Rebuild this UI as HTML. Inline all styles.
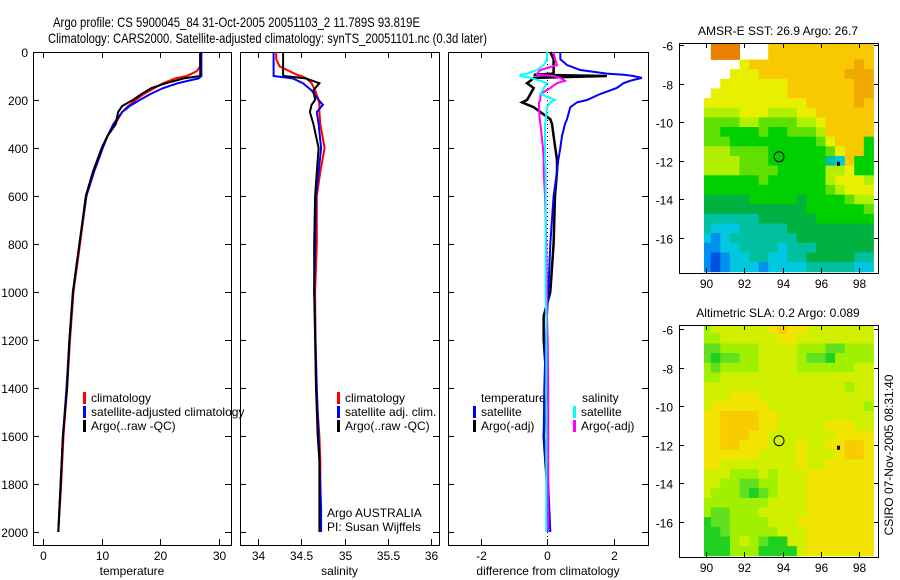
<!DOCTYPE html>
<html><head><meta charset="utf-8"><style>
html,body{margin:0;padding:0;background:#fff;}
svg{display:block;font-family:"Liberation Sans",sans-serif;}
</style></head><body>
<svg id="fig" width="900" height="580" viewBox="0 0 900 580">
<text x="53" y="27" font-size="14" textLength="367" lengthAdjust="spacingAndGlyphs">Argo profile: CS 5900045_84 31-Oct-2005 20051103_2 11.789S 93.819E</text>
<text x="48" y="43" font-size="14" textLength="439" lengthAdjust="spacingAndGlyphs">Climatology: CARS2000. Satellite-adjusted climatology: synTS_20051101.nc (0.3d later)</text>
<text transform="translate(893,455) rotate(-90)" text-anchor="middle" font-size="12">CSIRO 07-Nov-2005 08:31:40</text>
</svg>
<script>
// ---------- data ----------
const depthTicks=[0,200,400,600,800,1000,1200,1400,1600,1800,2000];
const tempTicks=[0,10,20,30];
const salTicks=[34,34.5,35,35.5,36];
const salTickLabels=["34","34.5","35","35.5","36"];
const diffTicks=[-2,0,2];
const tDepth=[0,60,80,100,110,130,150,175,200,225,250,300,350,400,500,600,800,1000,1200,1400,1600,1800,2000];
const tClim=[26.8,26.8,26.2,24.5,22.5,20.5,19,17.2,15.8,14.5,13.5,12.3,11,10,8.5,7.4,6.3,5.2,4.6,4.1,3.5,3.1,2.6];
const tSat=[27,27,27,27,26.5,23,20.5,18.3,16.5,14.8,13.5,12,11,10.2,8.7,7.4,6.2,5.1,4.5,4.0,3.4,3.0,2.6];
const tArgo=[26.8,26.8,26.8,26.8,24,21,18.5,16.8,15.3,13.5,12.8,12.4,11,10,8.5,7.3,6.2,5.1,4.5,4.1,3.4,3.0,2.6];
const sDepth=[0,30,60,95,100,110,130,160,200,220,250,300,400,500,600,800,1000,1400,1600,1700,1900,2000];
const sClim=[34.21,34.21,34.25,34.45,34.5,34.56,34.62,34.66,34.7,34.71,34.71,34.72,34.77,34.72,34.68,34.68,34.66,34.67,34.71,34.72,34.72,34.72];
const sSat=[34.18,34.18,34.18,34.18,34.18,34.4,34.52,34.62,34.7,34.75,34.68,34.7,34.73,34.7,34.67,34.66,34.65,34.68,34.7,34.71,34.73,34.73];
const sArgo=[34.29,34.29,34.29,34.29,34.3,34.55,34.71,34.64,34.66,34.62,34.6,34.64,34.7,34.68,34.66,34.65,34.65,34.67,34.69,34.71,34.71,34.71];
const dDepth=[0,30,54,75,90,95,100,108,120,130,150,175,200,210,230,280,300,350,400,450,500,600,800,1000,1100,1200,1400,1600,1800,2000];
const dTempSat=[0.4,0.4,0.6,1.0,1.8,2.3,2.6,2.85,2.5,2.3,2.1,1.6,1.2,0.9,0.7,0.6,0.54,0.45,0.4,0.34,0.3,0.2,0.1,0.04,0,-0.04,-0.08,-0.1,0.04,0.1];
const dTempArgo=[0.1,0.2,0.2,0.2,0.2,-0.4,1.8,-0.4,-0.5,-0.6,-0.4,-0.5,-0.6,-0.75,-0.4,0.1,0.15,0.2,0.25,0.3,0.3,0.24,0.2,0.1,-0.1,-0.1,0,-0.1,0,0];
const dSalSat=[0,0,-0.1,-0.3,-0.6,-0.8,-0.8,-0.5,-0.2,0,-0.1,-0.2,0.24,0.1,0,-0.04,-0.06,-0.06,-0.06,-0.06,-0.04,-0.04,-0.04,-0.04,-0.02,-0.02,-0.02,-0.02,-0.02,-0.02];
const dSalArgo=[0.2,0.24,0.3,-0.2,-0.3,-0.3,0.2,0.4,0.54,0.3,0.1,-0.2,-0.2,-0.24,-0.24,-0.22,-0.2,-0.16,-0.12,-0.1,-0.1,-0.06,-0.02,0,0,0.02,0.04,0.04,0.04,0.04];
const lonTicks=[90,92,94,96,98];
const latTicks=[-6,-8,-10,-12,-14,-16];
const sstRows=[".bbb...99999999999",".bbb...99999999999","....899999999999a9","...888999999999aaa","..88888889999999aa",".888888889999999aa","8888888888899999a9","777788877788999999","666677666677899999","665555655666799999","666555555555689995","777666655555568995","777766655555532955","777766665555577855","555555655555578887","555555555555567888","444445555545555677","444444444445555556","333333444444555555","322233333444444444","212333333344444444","112233332333444444","101223322334444433","101222122223333322"];
const slaRows=["677777789887777777","667777778877777777","556666777766655666","545566777765546666","656666777766666677","667777777777777777","777777777777777677","777888777777777777","788888877777777776","889999887777777777","889999887777788877","889998877777778888","889988877787788998","888888777787778998","887777777787788888","777666767778888888","776655667778888888","766654567778888888","666666677778888888","655666777778888888","455666677788888888","445666667778888888","444676544778888888","444666444478888888"];
const argoLon=93.819, argoLat=-11.789;
// ---------- drawing ----------
const NS="http://www.w3.org/2000/svg";
const svg=document.getElementById("fig");
function mk(tag,attrs,parent){const e=document.createElementNS(NS,tag);for(const k in attrs)e.setAttribute(k,attrs[k]);(parent||svg).appendChild(e);return e;}
const yD=d=>52+d*0.24;
const Y0=52,Y1=545;
const xT=v=>43+v*5.867, xS=v=>258+(v-34)*86.5, xDf=v=>547+v*33.25;

function panel(name,x0,x1){
  const g=mk("g",{});
  
  
  const r=mk("rect",{x:x0+0.5,y:Y0+0.5,width:x1-x0,height:Y1-Y0,fill:"none",stroke:"#000","stroke-width":1},g);
  
  
  depthTicks.forEach(d=>{
    const y=Math.round(yD(d))+0.5;
    mk("line",{x1:x0,x2:x0+6,y1:y,y2:y,stroke:"#000"},g);
    mk("line",{x1:x1-6,x2:x1,y1:y,y2:y,stroke:"#000"},g);
  });
  return g;
}
function xticks(g,ticks,labels,fx,x0,x1,title,tname){
  ticks.forEach((t,i)=>{
    const x=Math.round(fx(t))+0.5;
    mk("line",{x1:x,x2:x,y1:Y1-6,y2:Y1,stroke:"#000"},g);
    mk("line",{x1:x,x2:x,y1:Y0,y2:Y0+6,stroke:"#000"},g);
    const t2=mk("text",{x:x,y:Y1+15,"text-anchor":"middle","font-size":12},g);
    t2.textContent=labels[i];
    
    
  });
  const tt=mk("text",{x:(x0+x1)/2,y:575,"text-anchor":"middle","font-size":12},g);
  tt.textContent=title;
  
  
}
function series(g,vals,depths,fx,color,name,w){
  const pts=vals.map((v,i)=>fx(v).toFixed(1)+","+yD(depths[i]).toFixed(1)).join(" ");
  const p=mk("polyline",{points:pts,fill:"none",stroke:color,"stroke-width":w||2},g);
  
  
}
function legend(g,x,y,items){
  items.forEach((it,i)=>{
    const yy=y+i*14;
    const b=mk("rect",{x:x,y:yy-10,width:3,height:12,fill:it[1]},g);
    
    
    const t=mk("text",{x:x+8,y:yy,"font-size":12},g);
    t.textContent=it[0];
    
    
  });
}
// Panel 1 temperature
const g1=panel("temperature-panel",33,231);
depthTicks.forEach(d=>{const t=mk("text",{x:28,y:yD(d)+5,"text-anchor":"end","font-size":12},g1);t.textContent=d;
  
  });
xticks(g1,tempTicks,tempTicks.map(String),xT,33,231,"temperature","x-axis-title-temperature");
series(g1,tClim,tDepth,xT,"#f00","temp-climatology-line");
series(g1,tSat,tDepth,xT,"#00f","temp-satellite-line");
series(g1,tArgo,tDepth,xT,"#000","temp-argo-line");
legend(g1,83,402,[["climatology","#f00"],["satellite-adjusted climatology","#00f"],["Argo(..raw -QC)","#000"]]);
// Panel 2 salinity
const g2=panel("salinity-panel",240,439);
xticks(g2,salTicks,salTickLabels,xS,240,439,"salinity","x-axis-title-salinity");
series(g2,sClim,sDepth,xS,"#f00","sal-climatology-line");
series(g2,sSat,sDepth,xS,"#00f","sal-satellite-line");
series(g2,sArgo,sDepth,xS,"#000","sal-argo-line");
legend(g2,337,402,[["climatology","#f00"],["satellite adj. clim.","#00f"],["Argo(..raw -QC)","#000"]]);
const n1=mk("text",{x:327,y:517,"font-size":12},g2);n1.textContent="Argo AUSTRALIA";


const n2=mk("text",{x:327,y:531,"font-size":12},g2);n2.textContent="PI: Susan Wijffels";


// Panel 3 difference
const g3=panel("difference-panel",448,648);
xticks(g3,diffTicks,diffTicks.map(String),xDf,448,648,"difference from climatology","x-axis-title-difference");
const zl=mk("line",{x1:547.5,x2:547.5,y1:Y0,y2:Y1,stroke:"#000","stroke-dasharray":"1,3"},g3);


series(g3,dTempArgo,dDepth,xDf,"#000","diff-temp-argo-line",2.5);
series(g3,dTempSat,dDepth,xDf,"#00f","diff-temp-satellite-line");
series(g3,dSalArgo,dDepth,xDf,"#f0f","diff-sal-argo-line");
series(g3,dSalSat,dDepth,xDf,"#0ff","diff-sal-satellite-line");
(function(){const t=mk("text",{x:481,y:402,"font-size":12},g3);t.textContent="temperature";


const s=mk("text",{x:582,y:402,"font-size":12},g3);s.textContent="salinity";

})();
legend(g3,473,416,[["satellite","#00f"],["Argo(-adj)","#000"]]);
legend(g3,573,416,[["satellite","#0ff"],["Argo(-adj)","#f0f"]]);
// Maps
const sstColors={"0":"#0050e0","1":"#0090f0","2":"#00c8e0","3":"#00c0a0","4":"#00b040","5":"#00d000","6":"#60e000","7":"#b0f000","8":"#e8f000","9":"#f8c800","a":"#f0a800","b":"#e88000"};
const slaColors={"4":"#20d020","5":"#60e020","6":"#a0f000","7":"#d0f000","8":"#f0e400","9":"#f8cc00","a":"#f0b000"};
function map(name,top,bottom,rows,colors,title,tname){
  const g=mk("g",{});
  
  
  const lat0=top===43?45:329, lat1=top===43?238:522;
  const yL=v=>lat0+(v+6)*(lat1-lat0)/-10;
  const xL=v=>706+(v-90)*19.125;
  rows.forEach((row,i)=>{
    for(let j=0;j<row.length;j++){
      const c=row[j]; if(c===".")continue;
      const lon=90+0.5*j-0.25, lat=-5.75-0.5*i;
      const x0=Math.max(704,xL(lon)), x1=xL(lon+0.5), y0=Math.max(top,yL(lat)), y1=Math.min(bottom,yL(lat-0.5));
      const r=mk("rect",{x:x0.toFixed(1),y:y0.toFixed(1),width:(Math.min(878,x1)-x0+0.5).toFixed(1),height:(y1-y0+0.5).toFixed(1),fill:colors[c]},g);
      
      
    }
  });
  const fr=mk("rect",{x:679.5,y:top+0.5,width:199,height:bottom-top,fill:"none",stroke:"#000"},g);
  
  
  latTicks.forEach(v=>{const y=Math.round(yL(v))+0.5;
    mk("line",{x1:679,x2:684,y1:y,y2:y,stroke:"#000"},g);mk("line",{x1:874,x2:879,y1:y,y2:y,stroke:"#000"},g);
    const t=mk("text",{x:673,y:y+5,"text-anchor":"end","font-size":12},g);t.textContent=v;
    
    });
  lonTicks.forEach(v=>{const x=Math.round(xL(v))+0.5;
    mk("line",{x1:x,x2:x,y1:top,y2:top+5,stroke:"#000"},g);mk("line",{x1:x,x2:x,y1:bottom-5,y2:bottom,stroke:"#000"},g);
    const t=mk("text",{x:x,y:bottom+15,"text-anchor":"middle","font-size":12},g);t.textContent=v;
    
    });
  const c=mk("circle",{cx:xL(argoLon),cy:yL(argoLat),r:5,fill:"none",stroke:"#000"},g);
  
  
  const d=mk("rect",{x:xL(96.85),y:yL(-12.05),width:3,height:4,fill:"#000"},g);
  
  
  const t=mk("text",{x:778,y:top-8,"text-anchor":"middle","font-size":12},g);t.textContent=title;
  
  
}
map("sst-map",43,273,sstRows,sstColors,"AMSR-E SST: 26.9 Argo: 26.7","sst-map-title");
map("sla-map",325,557,slaRows,slaColors,"Altimetric SLA: 0.2 Argo: 0.089","sla-map-title");
</script>
</body></html>
